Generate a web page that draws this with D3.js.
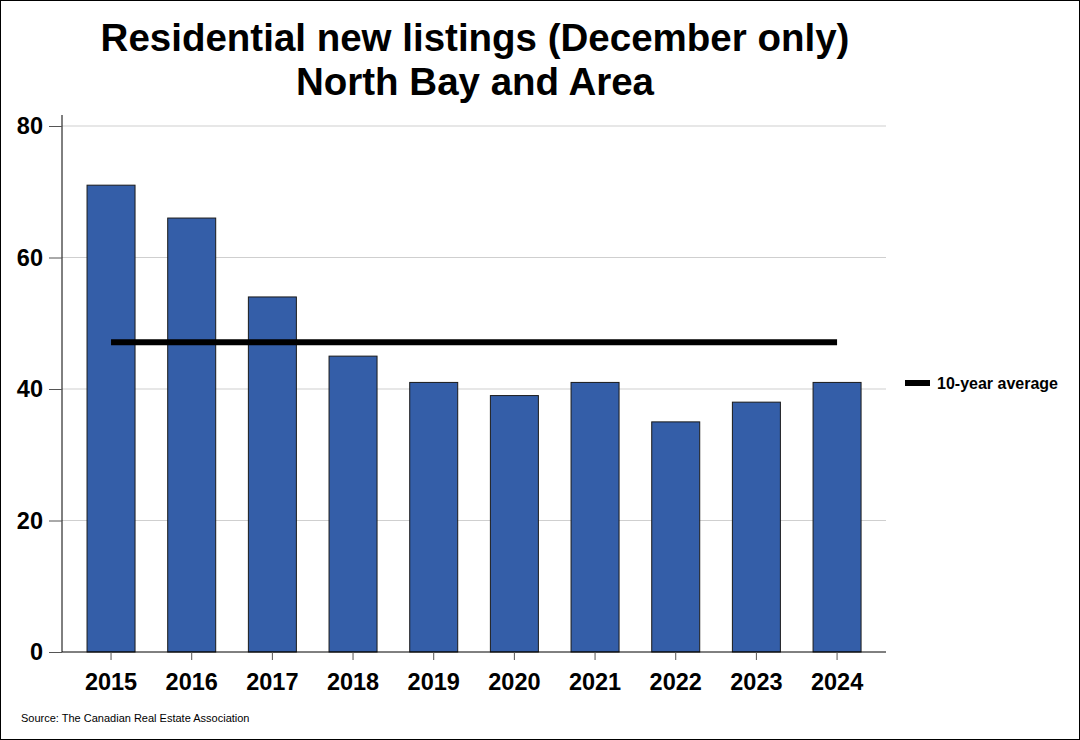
<!DOCTYPE html>
<html><head><meta charset="utf-8">
<script src="https://cdn.jsdelivr.net/npm/d3@7"></script>
<style>body{margin:0;background:#fff}svg{display:block}text{font-family:"Liberation Sans",Arial,sans-serif}</style>
</head><body>
<svg id="c" width="1080" height="740"></svg>
<script>
const years = ["2015","2016","2017","2018","2019","2020","2021","2022","2023","2024"];
const listings = [71,66,54,45,41,39,41,35,38,41];
const average = [47.1];
const yTicks = [0,20,40,60,80];
const titleLines = ["Residential new listings (December only)","North Bay and Area"];
const legendLabel = "10-year average";
const source = "Source: The Canadian Real Estate Association";

const svg = d3.select("#c");
svg.append("rect").attr("x",0.5).attr("y",0.5).attr("width",1079).attr("height",739).attr("fill","#fff").attr("stroke","#000");

const x = d3.scaleBand().domain(years).range([70.7,877.4]).paddingInner(0.405).paddingOuter(0.2025);
const y = d3.scaleLinear().domain([0,80]).range([652,126]);
const plotL = 62, plotR = 886;

svg.append("g").selectAll("line").data(yTicks.filter(d=>d>0)).join("line")
  .attr("x1",plotL).attr("x2",plotR).attr("y1",d=>y(d)).attr("y2",d=>y(d))
  .attr("stroke","#cfcfcf").attr("stroke-width",1);

svg.append("g").selectAll("rect").data(years).join("rect")
  .attr("x",d=>x(d)).attr("width",x.bandwidth())
  .attr("y",(d,i)=>y(listings[i])).attr("height",(d,i)=>y(0)-y(listings[i]))
  .attr("fill","#345EA8").attr("stroke","#1a1a1a").attr("stroke-width",1);

svg.append("line").attr("x1",x(years[0])+x.bandwidth()/2).attr("x2",x(years[years.length-1])+x.bandwidth()/2)
  .attr("y1",y(average[0])).attr("y2",y(average[0])).attr("stroke","#000").attr("stroke-width",6);

// y axis
const ya = svg.append("g").attr("transform",`translate(${plotL},0)`)
  .call(d3.axisLeft(y).tickValues(yTicks).tickSize(13).tickPadding(6).tickSizeOuter(0));
ya.select(".domain").attr("d",`M0,115V652`).attr("stroke","#000");
ya.selectAll(".tick line").attr("stroke","#555");
ya.selectAll(".tick text").attr("font-size",23.5).attr("font-weight","bold").attr("fill","#000").attr("font-family","Liberation Sans, Arial, sans-serif");

// x axis
const xa = svg.append("g").attr("transform",`translate(0,652)`)
  .call(d3.axisBottom(x).tickSize(8).tickPadding(13).tickSizeOuter(0));
xa.select(".domain").attr("d",`M${plotL},0H${plotR}`).attr("stroke","#000");
xa.selectAll(".tick line").attr("stroke","#555");
xa.selectAll(".tick text").attr("font-size",23.5).attr("font-weight","bold").attr("fill","#000").attr("font-family","Liberation Sans, Arial, sans-serif");

// title
svg.append("g").selectAll("text").data(titleLines).join("text")
  .attr("x",475).attr("y",(d,i)=>51+i*44).attr("text-anchor","middle")
  .attr("font-size",38.5).attr("font-weight","bold").text(d=>d);

// legend
svg.append("line").attr("x1",905).attr("x2",930).attr("y1",383).attr("y2",383).attr("stroke","#000").attr("stroke-width",6);
svg.append("text").attr("x",937).attr("y",389).attr("font-size",16).attr("font-weight","bold").text(legendLabel);

svg.append("text").attr("x",21).attr("y",722).attr("font-size",11).text(source);
</script>
</body></html>
